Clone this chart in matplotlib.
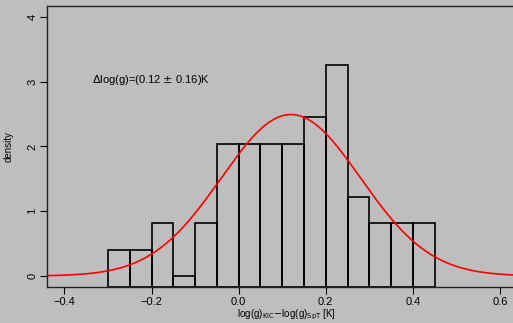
import numpy as np
import matplotlib
matplotlib.use("Agg")
import matplotlib.pyplot as plt

plt.rcParams["font.family"] = ["Liberation Sans", "DejaVu Sans"]

# histogram of log(g) differences, bins of 0.05, counts per bin (N = 49)
bin_edges = [-0.30, -0.25, -0.20, -0.15, -0.10, -0.05, 0.00, 0.05, 0.10,
             0.15, 0.20, 0.25, 0.30, 0.35, 0.40, 0.45]
counts = [1, 1, 2, 0, 2, 5, 5, 5, 5, 6, 8, 3, 2, 2, 2]

# gaussian fit
fit_mean = 0.12
fit_sd = 0.16

xticks = [-0.4, -0.2, 0.0, 0.2, 0.4, 0.6]
yticks = [0, 1, 2, 3, 4]

bg = "#bebebe"
ymin, ymax = -0.17, 4.17

fig = plt.figure(figsize=(5.13, 3.23), dpi=100)
fig.patch.set_facecolor(bg)
ax = fig.add_axes([0.0916, 0.1115, 0.934, 0.87])
ax.set_facecolor(bg)

edges = np.array(bin_edges)
n = np.array(counts)
widths = np.diff(edges)
dens = n / (n.sum() * widths)
# bars run down to the bottom of the frame
ax.bar(edges[:-1], dens - ymin, bottom=ymin, width=widths, align="edge",
       facecolor="none", edgecolor="black", linewidth=1.2)

xs = np.linspace(-0.44, 0.66, 400)
pdf = np.exp(-0.5 * ((xs - fit_mean) / fit_sd) ** 2) / (fit_sd * np.sqrt(2 * np.pi))
ax.plot(xs, pdf, color="red", linewidth=1.2)

ax.text(-0.336, 3.03, r"$\Delta$log(g)=(0.12 $\pm$ 0.16)K", fontsize=8,
        ha="left", va="center")

ax.set_xlim(-0.44, 0.66)
ax.set_ylim(ymin, ymax)
ax.set_xticks(xticks)
ax.set_xticklabels([f"{t:.1f}".replace("-", "\u2212") for t in xticks], fontsize=8)
ax.set_yticks(yticks)
ax.set_yticklabels([str(t) for t in yticks], fontsize=8, rotation=90, va="center")
ax.tick_params(direction="out", length=5, width=0.8, color="black", pad=2)

ax.set_xlabel(r"log(g)$_{\mathrm{KIC}}$$-$log(g)$_{\mathrm{SpT}}$ [K]", fontsize=7, labelpad=1)
ax.set_ylabel("density", fontsize=7, labelpad=10)

for s in ax.spines.values():
    s.set_linewidth(1.0)
    s.set_color("#222222")

fig.savefig("out.png", dpi=100, facecolor=bg)
